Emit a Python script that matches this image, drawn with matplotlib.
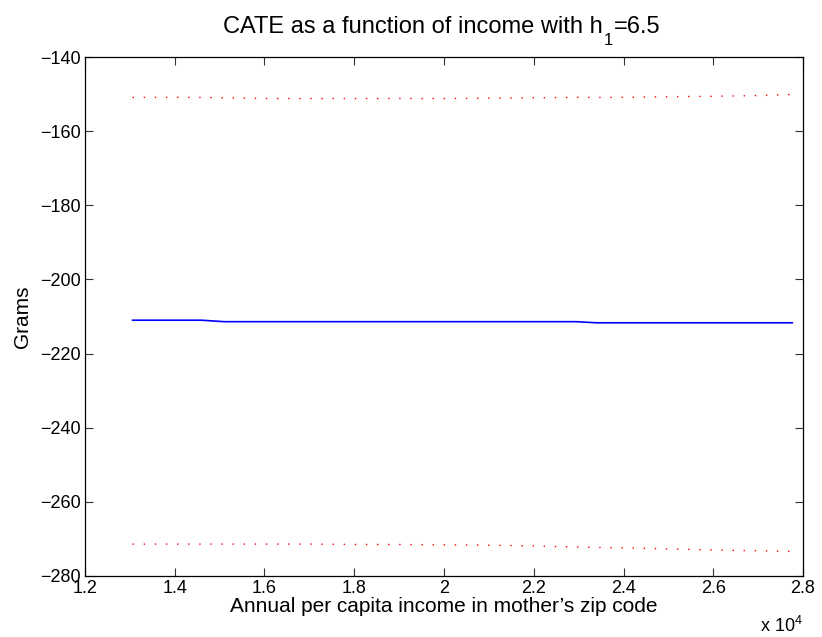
import matplotlib
matplotlib.use("Agg")
import matplotlib.pyplot as plt
import numpy as np

# Income grid (dollars) and CATE estimates with confidence bands (grams)
income = [13060, 14000, 14600, 15100, 16000, 17000, 18000, 19000, 20000,
          21000, 22000, 22950, 23400, 24000, 25000, 26000, 27000, 27760]
cate = [-211.0, -211.0, -211.0, -211.4, -211.4, -211.4, -211.4, -211.4, -211.4,
        -211.4, -211.4, -211.4, -211.7, -211.7, -211.7, -211.7, -211.7, -211.7]
upper = [-150.9, -150.9, -150.9, -151.0, -151.2, -151.2, -151.2, -151.2, -151.2,
         -151.1, -151.0, -150.9, -150.9, -150.9, -150.7, -150.6, -150.4, -150.1]
lower = [-271.4, -271.4, -271.4, -271.4, -271.4, -271.4, -271.5, -271.5, -271.6,
         -271.7, -271.9, -272.2, -272.3, -272.4, -272.7, -273.0, -273.2, -273.4]

W, H = 822, 637
FONT = "Liberation Sans"
plt.rcParams["font.family"] = [FONT, "DejaVu Sans"]
plt.rcParams["mathtext.fontset"] = "custom"
plt.rcParams["mathtext.rm"] = FONT
plt.rcParams["mathtext.it"] = FONT

fig = plt.figure(figsize=(W / 100, H / 100), dpi=100)
ax = fig.add_axes([0.1034, 0.0958, 0.8735, 0.8147])

x = np.array(income) / 1e4
ax.plot(x, upper, color="#ff0000", linestyle=(0, (1, 7)), linewidth=1.0)
ax.plot(x, lower, color="#ff0000", linestyle=(0, (1, 7)), linewidth=1.0)
ax.plot(x, cate, color="#0000ff", linewidth=1.2)

ax.set_xlim(1.2, 2.8)
ax.set_ylim(-280, -140)
xt = np.round(np.arange(1.2, 2.81, 0.2), 1)
ax.set_xticks(xt)
ax.set_xticklabels([f"{v:g}" for v in xt])
ax.set_yticks(np.arange(-280, -139, 20))
ax.set_yticklabels([f"\u2212{abs(v)}" for v in range(-280, -139, 20)])

ax.tick_params(direction="in", top=True, right=True, length=6, width=0.8,
               labelsize=13, pad=3, color="#333333")
for s in ax.spines.values():
    s.set_linewidth(0.9)

# title with a dropped subscript, MATLAB style
t1 = fig.text(223 / W, 1 - 33 / H, "CATE as a function of income with h",
              fontsize=17, ha="left", va="baseline")
t2 = ax.annotate("1", xy=(1, 1 - 45 / H), xycoords=(t1, "figure fraction"),
                 xytext=(0.5, 0), textcoords="offset points",
                 fontsize=12, ha="left", va="baseline", annotation_clip=False)
ax.annotate("=6.5", xy=(1, 1 - 33 / H), xycoords=(t2, "figure fraction"),
            xytext=(0.5, 0), textcoords="offset points",
            fontsize=17, ha="left", va="baseline", annotation_clip=False)

ax.set_xlabel("Annual per capita income in mother\u2019s zip code", fontsize=15, labelpad=0)
ax.set_ylabel("Grams", fontsize=15, labelpad=6)
ax.text(1.0, -0.108, r"x 10$^4$", transform=ax.transAxes, ha="right",
        va="baseline", fontsize=13)

plt.savefig("out.png", dpi=100)
